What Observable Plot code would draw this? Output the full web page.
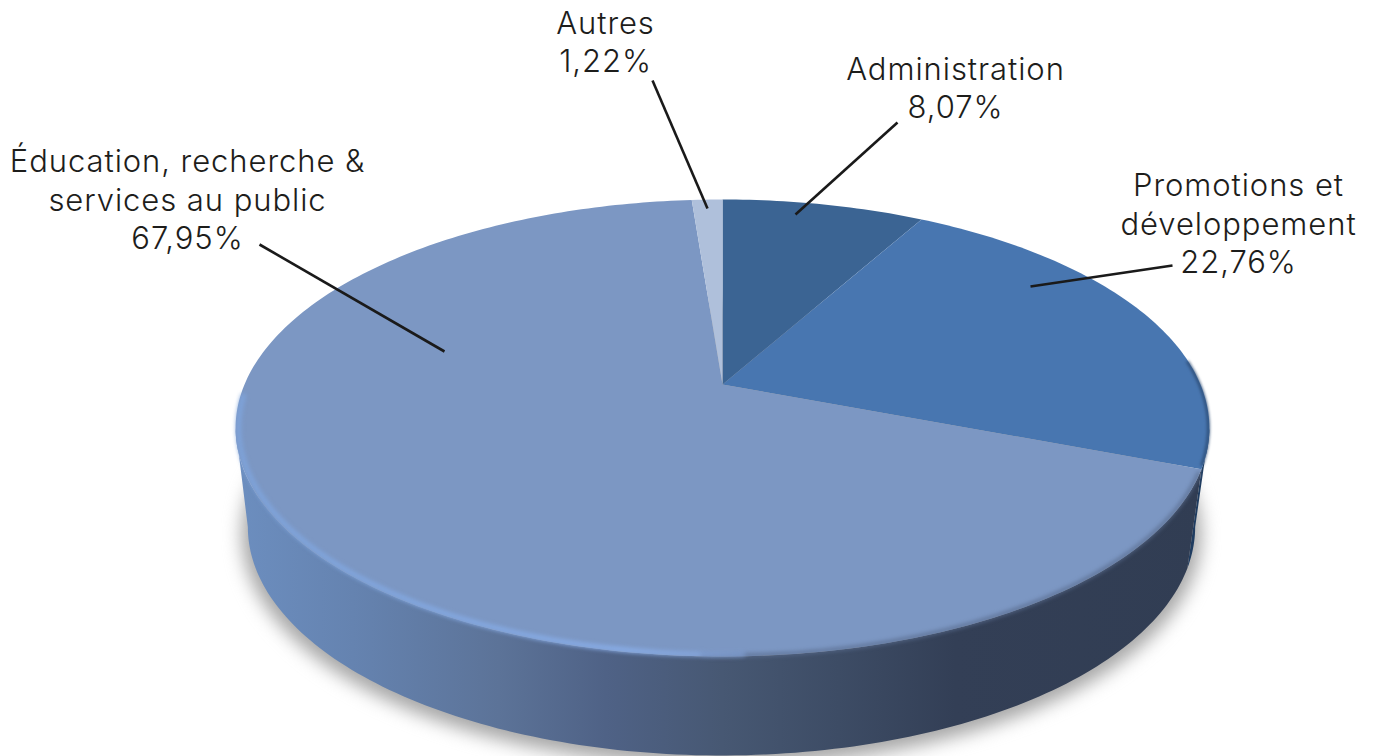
<!DOCTYPE html>
<html lang="fr">
<head>
<meta charset="utf-8">
<title>Répartition</title>
<script src="https://cdn.jsdelivr.net/npm/d3@7"></script>
<script src="https://cdn.jsdelivr.net/npm/@observablehq/plot@0.6"></script>
<style>
  html, body { margin: 0; padding: 0; background: #fff; }
  svg { display: block; }
  svg text { letter-spacing: 0.03em; }
</style>
</head>
<body>
<div id="chart"></div>
<script>
// ---- data ----
const categories = ["Administration", "Promotions et\ndéveloppement", "Éducation, recherche &\nservices au public", "Autres"];
const shares = [8.07, 22.76, 67.95, 1.22];
const sliceColors = ["#3b6493", "#4876b0", "#7c97c3", "#afc0db"];

// ---- layout (separate from the data) ----
const labelX = [955, 1238, 187, 605];
const labelY = [86, 222, 198, 40];
const leaderFromX = [897, 1172, 259, 652];
const leaderFromY = [122, 265, 244, 80];
const leaderToX = [795, 1030, 444, 707];
const leaderToY = [214, 286, 351, 208];

// ---- perspective view of the disc ----
const view = {
  top:    {cx: 722, cy: 384, a: 478, b: 220.2},
  bottom: {cx: 721, cy: 483, a: 465, b: 220.2}
};
const tilt = 0.1903;
const rad = d => d * Math.PI / 180;
function project(deg, r, level) {
  const v = view[level];
  const u = r * Math.sin(rad(deg)), w = r * Math.cos(rad(deg));
  const k = 1 + tilt * w;
  return {x: v.cx + v.a * u / k, y: v.cy - v.b * w / k};
}
function arc(from, to, r, level) {
  const n = Math.max(2, Math.ceil(Math.abs(to - from)));
  return d3.range(n + 1).map(i => project(from + (to - from) * i / n, r, level));
}

// slices start at 12 o'clock and turn clockwise
const total = d3.sum(shares);
const cumulative = d3.cumsum(shares);
const startDeg = i => (i === 0 ? 0 : cumulative[i - 1]) / total * 360;
const endDeg = i => cumulative[i] / total * 360;

const topRows = categories.flatMap((cat, i) =>
  [project(0, 0, "top"), ...arc(startDeg(i), endDeg(i), 1, "top")].map(p => ({...p, cat})));

const sideAngleR = Math.acos(-tilt) * 180 / Math.PI;      // silhouette tangents
const sideAngleL = 360 - sideAngleR;
const wall = (from, to) => [...arc(from, to, 1, "top"), ...arc(to, from, 1, "bottom")];
const promoEnd = endDeg(1);

const sideStops = [[0, "#6c8ebf"], [0.12, "#6583b0"], [0.27, "#5c7398"], [0.38, "#4f6286"],
                   [0.5, "#475873"], [0.62, "#3d4c65"], [0.74, "#333f56"], [1, "#313d53"]];
const rimStops = [[0, "#7ea3da", 1], [0.4, "#88ace6", 1], [0.54, "#84a4da", 0.6], [0.66, "#7c97c3", 0]];

function gradient(id, stops) {
  const g = d3.create("svg:linearGradient").attr("id", id)
    .attr("gradientUnits", "userSpaceOnUse")
    .attr("x1", 236).attr("x2", 1207).attr("y1", 0).attr("y2", 0);
  for (const [o, c, a] of stops)
    g.append("stop").attr("offset", o).attr("stop-color", c).attr("stop-opacity", a ?? 1);
  return g;
}
const defs = () => {
  const d = d3.create("svg:defs");
  d.append(() => gradient("side", sideStops).node());
  d.append(() => gradient("rim", rimStops).node());
  return d.node();
};

const labelRows = categories.map((cat, i) => ({
  text: `${cat}\n${shares[i].toFixed(2).replace(".", ",")}%`, x: labelX[i], y: labelY[i]
}));
const leaderRows = categories.map((cat, i) => ({
  x1: leaderFromX[i], y1: leaderFromY[i], x2: leaderToX[i], y2: leaderToY[i]
}));

const chart = Plot.plot({
  width: 1376, height: 756,
  margin: 0,
  style: {background: "#fff"},
  x: {domain: [0, 1376], range: [0, 1376], axis: null},
  y: {domain: [0, 756], range: [0, 756], axis: null},
  color: {type: "ordinal", domain: categories, range: sliceColors},
  marks: [
    defs,
    // ground shadow
    Plot.line(arc(0, 360, 1.012, "bottom"), {x: "x", y: "y", curve: "linear-closed", fill: "#a6a6a6", dy: 6, imageFilter: "blur(9px)"}),
    // walls
    Plot.line(wall(sideAngleR, promoEnd), {x: "x", y: "y", curve: "linear-closed", fill: "#1f3c60"}),
    Plot.line(wall(promoEnd, sideAngleL), {x: "x", y: "y", curve: "linear-closed", fill: "url(#side)"}),
    // top surface
    Plot.line(topRows, {x: "x", y: "y", z: "cat", fill: "cat", curve: "linear-closed"}),
    // bevel along the edge
    Plot.line(arc(promoEnd + 1, 182, 0.998, "top"), {x: "x", y: "y", stroke: "#596c8e", strokeWidth: 3, imageFilter: "blur(2px)"}),
    Plot.line(arc(178, sideAngleL + 8, 0.994, "top"), {x: "x", y: "y", stroke: "url(#rim)", strokeWidth: 5, imageFilter: "blur(2px)"}),
    Plot.line(arc(84, promoEnd - 1, 0.998, "top"), {x: "x", y: "y", stroke: "#2b4a72", strokeWidth: 2.5, imageFilter: "blur(1.5px)"}),
    // leaders and labels
    Plot.link(leaderRows, {x1: "x1", y1: "y1", x2: "x2", y2: "y2", stroke: "#1a1a1a", strokeWidth: 2.6}),
    Plot.text(labelRows, {x: "x", y: "y", text: "text", fontSize: 31, fontWeight: 300, lineHeight: 1.24,
      fontFamily: "Inter", fill: "#1d1d1b", textAnchor: "middle", lineAnchor: "middle"})
  ]
});
document.getElementById("chart").append(chart);
</script>
</body>
</html>
